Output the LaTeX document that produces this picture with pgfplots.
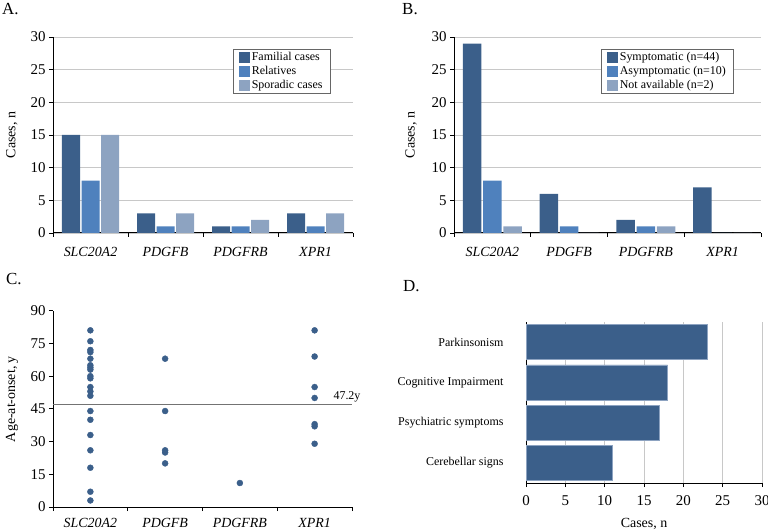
\documentclass[border=0pt]{standalone}
\usepackage{fontspec}
\setmainfont{Liberation Serif}
\usepackage{pgfplots}
\pgfplotsset{compat=1.18}
\definecolor{cdark}{HTML}{3B5F8A}
\definecolor{cmed}{HTML}{4F81BD}
\definecolor{clight}{HTML}{8DA3C1}
\definecolor{cgrid}{HTML}{C8C8C8}
\newcommand{\numlab}{\fontsize{15}{17}\selectfont}
\pgfplotsset{
 base/.style={
  scale only axis,
  anchor=south west,
  clip=false,
  font=\fontsize{14}{16}\selectfont,
  /pgf/number format/assume math mode=true,
  axis lines=left,
  axis line style={-, line width=1pt, black},
  tick align=outside,
  major tick length=4bp,
  minor tick length=4bp,
  tick style={black, line width=0.8pt},
  grid style={cgrid, line width=0.8pt},
  tick label style={font=\fontsize{14}{16}\selectfont},
  label style={font=\fontsize{14}{16}\selectfont},
 },
 genes/.style={
  base,
  xmin=-0.5, xmax=3.5,
  xtick={0,1,2,3},
  xticklabels={\textit{SLC20A2},\textit{PDGFB},\textit{PDGFRB},\textit{XPR1}},
  xticklabel style={yshift=-4bp},
  major x tick style={draw=none},
  minor xtick={-0.5,0.5,1.5,2.5,3.5},
  minor x tick style={draw=black, line width=0.8pt},
  yticklabel={\numlab\pgfmathprintnumber{\tick}},
 },
 genebar/.style={
  genes,
  height=196bp,
  ymin=0, ymax=30, ytick={0,5,...,30},
  ymajorgrids,
  ylabel={Cases, n},
  xticklabel style={yshift=-3bp},
  legend cell align=left,
  legend style={anchor=north west, draw=black!60, line width=0.6pt, fill=white,
    font=\fontsize{12}{14}\selectfont, inner xsep=6bp, inner ysep=1bp, row sep=0pt,
    nodes={inner sep=1.5bp, text height=8.5bp, text depth=2.5bp}},
 },
 sqlegend/.style={
  legend image code/.code={\fill[##1] (0bp,-5.5bp) rectangle (11bp,5.5bp);},
 },
}
\begin{document}
\begin{tikzpicture}
\useasboundingbox (0,0) rectangle (768bp,530bp);
% Panel A
\begin{axis}[genebar, at={(53bp,297bp)}, width=300bp,
  ybar=1.5bp, bar width=18bp, sqlegend,
  ylabel style={at={(axis description cs:-0.137,0.5)}, anchor=center},
  legend style={at={(axis description cs:0.6,0.939)}}]
\addplot[fill=cdark, draw=none] coordinates {(0,15)(1,3)(2,1)(3,3)};
\addplot[fill=cmed, draw=none] coordinates {(0,8)(1,1)(2,1)(3,1)};
\addplot[fill=clight, draw=none] coordinates {(0,15)(1,3)(2,2)(3,3)};
\legend{Familial cases, Relatives, Sporadic cases}
\end{axis}
% Panel B
\begin{axis}[genebar, at={(454bp,297bp)}, width=307bp,
  ybar=1.8bp, bar width=18.5bp, sqlegend,
  ylabel style={at={(axis description cs:-0.14,0.5)}, anchor=center},
  legend style={at={(axis description cs:0.479,0.939)}}]
\addplot[fill=cdark, draw=none] coordinates {(0,29)(1,6)(2,2)(3,7)};
\addplot[fill=cmed, draw=none] coordinates {(0,8)(1,1)(2,1)(3,0)};
\addplot[fill=clight, draw=none] coordinates {(0,1)(1,0)(2,1)(3,0)};
\legend{Symptomatic (n=44), Asymptomatic (n=10), Not available (n=2)}
\end{axis}
% Panel C
\begin{axis}[genes, at={(53bp,23bp)}, width=299bp, height=196.3bp,
  ymin=0, ymax=90, ytick={0,15,...,90},
  ylabel={Age-at-onset, y},
  ylabel style={at={(axis description cs:-0.137,0.55)}, anchor=center}]
\addplot[only marks, mark=*, mark size=3bp, color=cdark] coordinates {
 (0,81)(0,76)(0,72)(0,71)(0,68)(0,65)(0,64)(0,63)(0,60)(0,59)
 (0,55)(0,53)(0,51)(0,44)(0,40)(0,33)(0,26)(0,18)(0,7)(0,3)
 (1,68)(1,44)(1,26)(1,25)(1,20)
 (2,11)
 (3,81)(3,69)(3,55)(3,50)(3,38)(3,37)(3,29)};
\addplot[color=black!55, line width=0.8pt] coordinates {(-0.5,47.2)(3.5,47.2)};
\node[anchor=south, font=\fontsize{12}{14}\selectfont, inner sep=1.5bp, xshift=-5bp] at (axis cs:3.5,47.2) {47.2y};
\end{axis}
% Panel D
\begin{axis}[base, at={(526bp,47bp)}, width=236bp, height=161bp,
  xbar, bar width=35bp,
  xmin=0, xmax=30, xtick={0,5,...,30},
  xticklabel={\numlab\pgfmathprintnumber{\tick}},
  xmajorgrids,
  ymin=-0.5, ymax=3.5, ytick={0,1,2,3},
  yticklabels={Cerebellar signs, Psychiatric symptoms, Cognitive Impairment, Parkinsonism},
  major y tick style={draw=none},
  yticklabel style={xshift=-15bp, font=\fontsize{12}{14}\selectfont},
  xticklabel style={yshift=-5bp},
  xlabel style={yshift=-6bp},
  xlabel={Cases, n}]
\addplot[fill=cdark, draw=clight, line width=0.6pt] coordinates {(11,0)(17,1)(18,2)(23,3)};
\end{axis}
% Panel letters
\node[anchor=base west, font=\fontsize{17}{19}\selectfont, inner sep=0pt] at (2bp,515bp) {A.};
\node[anchor=base west, font=\fontsize{17}{19}\selectfont, inner sep=0pt] at (402bp,515bp) {B.};
\node[anchor=base west, font=\fontsize{17}{19}\selectfont, inner sep=0pt] at (6bp,245bp) {C.};
\node[anchor=base west, font=\fontsize{17}{19}\selectfont, inner sep=0pt] at (403bp,238bp) {D.};
\end{tikzpicture}
\end{document}
